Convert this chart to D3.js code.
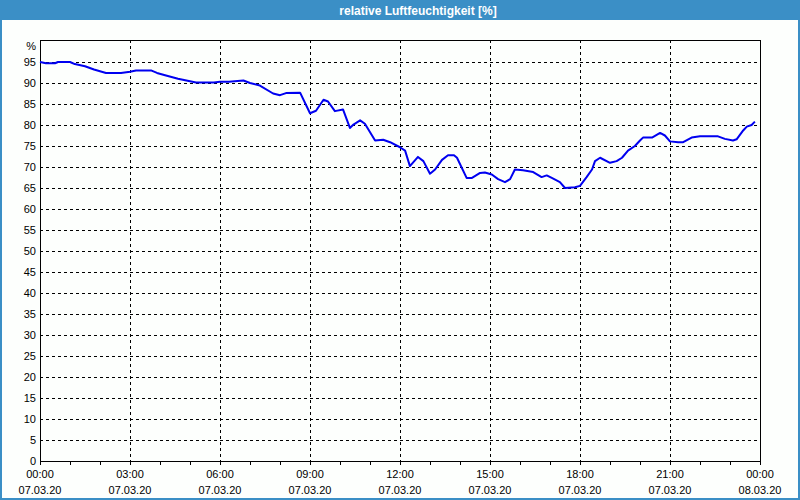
<!DOCTYPE html>
<html><head><meta charset="utf-8">
<script src="https://cdn.jsdelivr.net/npm/d3@7"></script>
<style>html,body{margin:0;padding:0;background:#fff;}svg{display:block;}</style>
</head><body>
<script>
const title = "relative Luftfeuchtigkeit [%]";
const unitLabel = "%";
// time in hours since 07.03.20 00:00
const hours = [0,0.2,0.5,0.6,1.0,1.16,1.5,1.8,2.2,2.7,3.0,3.2,3.7,3.9,4.2,4.6,5.2,5.8,6.0,6.3,6.78,7.0,7.33,7.77,8.0,8.2,8.67,9.0,9.2,9.45,9.6,9.83,10.1,10.33,10.45,10.67,10.83,11.17,11.44,11.67,12.0,12.17,12.33,12.6,12.78,13.0,13.17,13.4,13.6,13.8,13.9,14.22,14.4,14.67,14.83,15.06,15.27,15.5,15.67,15.83,16.1,16.44,16.72,16.89,17.06,17.33,17.5,17.83,18.0,18.22,18.4,18.5,18.67,19.0,19.22,19.4,19.6,19.83,20.0,20.1,20.4,20.67,20.83,21.0,21.27,21.44,21.72,22.0,22.6,22.83,23.1,23.22,23.44,23.56,23.72,23.83];
const humidity = [95.0,94.7,94.7,95.0,95.0,94.5,94.0,93.2,92.4,92.4,92.7,93.0,93.0,92.4,91.8,91.0,90.1,90.1,90.3,90.3,90.6,90.0,89.4,87.5,87.1,87.6,87.7,82.8,83.4,86.0,85.6,83.3,83.7,79.3,80.1,81.1,80.3,76.3,76.5,75.9,74.7,73.9,70.2,72.4,71.4,68.4,69.4,71.7,72.8,72.8,72.2,67.4,67.4,68.6,68.7,68.2,67.1,66.4,67.1,69.4,69.2,68.8,67.6,68.0,67.4,66.4,65.0,65.2,65.5,67.6,69.4,71.4,72.2,71.0,71.4,72.2,73.9,75.0,76.3,77.0,77.0,78.1,77.5,76.1,75.9,75.9,77.0,77.3,77.3,76.7,76.3,76.6,78.7,79.6,80.0,80.8];
const xTickHours = [0,3,6,9,12,15,18,21,24];
const xTickTimes = ["00:00","03:00","06:00","09:00","12:00","15:00","18:00","21:00","00:00"];
const xTickDates = ["07.03.20","07.03.20","07.03.20","07.03.20","07.03.20","07.03.20","07.03.20","07.03.20","08.03.20"];
const yTicks = [0,5,10,15,20,25,30,35,40,45,50,55,60,65,70,75,80,85,90,95];

const W = 800, H = 500;
const L = 40, R = 760, T = 40, B = 461;
const blue = "#3b8fc6";
const font = "'Liberation Sans', Arial, sans-serif";

const svg = d3.select("body").append("svg").attr("width", W).attr("height", H);
svg.append("rect").attr("width", W).attr("height", H).attr("fill", "#fdfffd");
// window frame
svg.append("rect").attr("x", 0).attr("y", 0).attr("width", W).attr("height", 20).attr("fill", blue);
svg.append("rect").attr("x", 0).attr("y", 0).attr("width", 2).attr("height", H).attr("fill", blue);
svg.append("rect").attr("x", W - 2).attr("y", 0).attr("width", 2).attr("height", H).attr("fill", blue);
svg.append("rect").attr("x", 0).attr("y", H - 2).attr("width", W).attr("height", 2).attr("fill", blue);
svg.append("text").attr("x", 418).attr("y", 14.5).attr("text-anchor", "middle")
  .attr("font-family", font).attr("font-weight", "bold").attr("font-size", "12px")
  .attr("fill", "#fff").text(title);

const x = d3.scaleLinear().domain([0, 24]).range([L, R]);
const y = d3.scaleLinear().domain([0, 100]).range([B, T + 1]);
const px = v => Math.round(x(v)) + 0.5;
const py = v => Math.round(y(v)) + 0.5;

// grid
const g = svg.append("g").attr("stroke", "#000").attr("stroke-width", 1).attr("stroke-dasharray", "3,3").attr("fill", "none");
g.selectAll("line.h").data(yTicks.filter(v => v > 0)).join("line")
  .attr("x1", L).attr("x2", R).attr("y1", d => py(d)).attr("y2", d => py(d));
g.selectAll("line.v").data(xTickHours.filter(v => v > 0 && v < 24)).join("line")
  .attr("y1", T).attr("y2", B).attr("x1", d => px(d)).attr("x2", d => px(d));

// frame
svg.append("rect").attr("x", L + 0.5).attr("y", T + 0.5).attr("width", R - L).attr("height", B - T)
  .attr("fill", "none").attr("stroke", "#000");

// x ticks every hour
svg.append("g").selectAll("line").data(d3.range(0, 25)).join("line")
  .attr("x1", d => px(d)).attr("x2", d => px(d)).attr("y1", B).attr("y2", B + 4)
  .attr("stroke", "#000");

// y labels
svg.append("g").selectAll("text").data(yTicks).join("text")
  .attr("x", 36).attr("y", d => y(d) + 4).attr("text-anchor", "end")
  .attr("font-family", font).attr("font-size", "11px").attr("fill", "#000").text(d => d);
svg.append("text").attr("x", 36).attr("y", 50).attr("text-anchor", "end")
  .attr("font-family", font).attr("font-size", "11px").attr("fill", "#000").text(unitLabel);

// x labels
const xl = svg.append("g").attr("font-family", font).attr("font-size", "11px").attr("fill", "#000").attr("text-anchor", "middle");
xl.selectAll("text.t").data(xTickHours).join("text").attr("class", "t")
  .attr("x", d => x(d)).attr("y", 478).text((d, i) => xTickTimes[i]);
xl.selectAll("text.d").data(xTickHours).join("text").attr("class", "d")
  .attr("x", d => x(d)).attr("y", 494).text((d, i) => xTickDates[i]);

// line
const data = hours.map((h, i) => ({h, v: humidity[i]}));
svg.append("path").datum(data)
  .attr("d", d3.line().x(d => x(d.h)).y(d => y(d.v)))
  .attr("fill", "none").attr("stroke", "#0000f0").attr("stroke-width", 2).attr("stroke-linejoin", "round");
</script>
</body></html>
